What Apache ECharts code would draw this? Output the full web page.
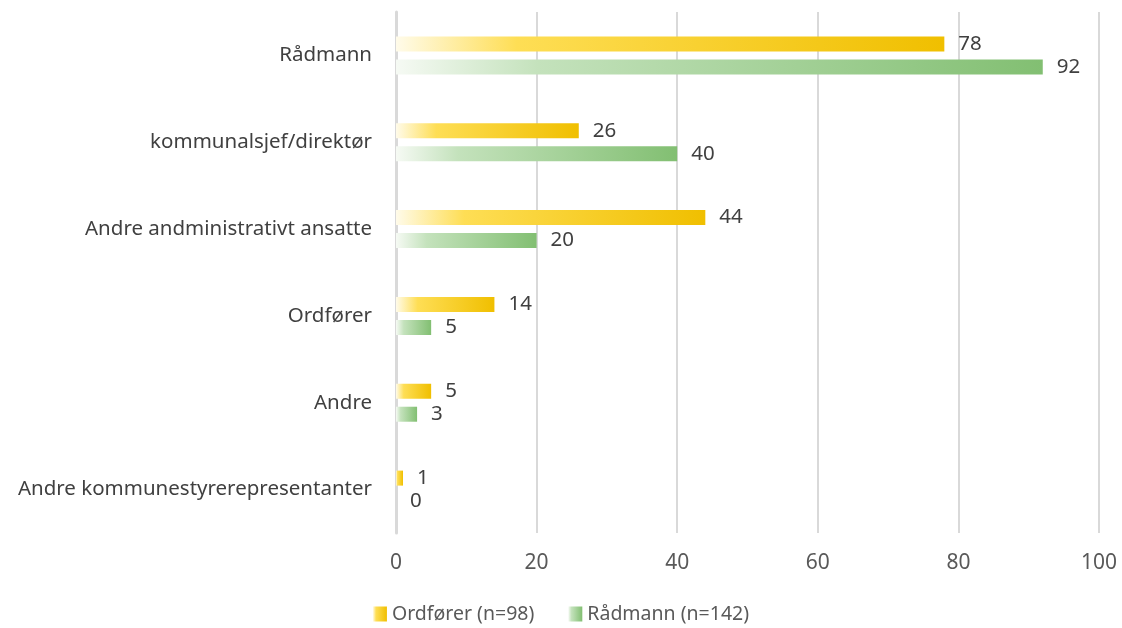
<!DOCTYPE html>
<html><head><meta charset="utf-8">
<script src="https://cdn.jsdelivr.net/npm/echarts@6/dist/echarts.min.js"></script>
<style>html,body{margin:0;padding:0;background:#fff}#c{width:1122px;height:628px}</style>
</head><body><div id="c"></div>
<script>
const categories = ["Rådmann","kommunalsjef/direktør","Andre andministrativt ansatte","Ordfører","Andre","Andre kommunestyrerepresentanter"];
const seriesNames = ["Ordfører (n=98)","Rådmann (n=142)"];
const ordforer = [78,26,44,14,5,1];
const radmann = [92,40,20,5,3,0];
const xTicks = [0,20,40,60,80,100];

const font = "Noto Sans";
function grad(c0,c1,c2){
  return new echarts.graphic.LinearGradient(0,0,1,0,[{offset:0,color:c0},{offset:0.22,color:c1},{offset:1,color:c2}]);
}
const yellow = grad('#FFFBEA','#FEDE55','#F0BF00');
const green = grad('#F6FAF4','#C4E2BC','#82BF72');
const chart = echarts.init(document.getElementById('c'));
chart.setOption({
  animation:false,
  textStyle:{fontFamily:font},
  grid:{left:396,right:23,top:12,bottom:95,containLabel:false},
  legend:{bottom:-1,left:'center',itemWidth:14,itemHeight:15,itemGap:34,
    textStyle:{fontSize:19.5,color:'#595959',fontFamily:font},
    data:[{name:seriesNames[0],icon:'rect',itemStyle:{color:grad('#FFFBEA','#FEDE55','#F0BF00')}},{name:seriesNames[1],icon:'rect',itemStyle:{color:grad('#F6FAF4','#C4E2BC','#82BF72')}}]},
  xAxis:{type:'value',min:0,max:100,interval:20,
    axisLine:{show:false},axisTick:{show:false},
    axisLabel:{fontSize:21,color:'#595959',margin:20,fontFamily:font,formatter:v=>String(xTicks[xTicks.indexOf(v)])},
    splitLine:{show:true,lineStyle:{color:'#D9D9D9',width:2}}},
  yAxis:{type:'category',data:categories,inverse:true,
    axisLine:{lineStyle:{color:'#D9D9D9',width:3}},axisTick:{show:false},
    axisLabel:{fontSize:20.5,color:'#404040',margin:24,fontFamily:font}},
  series:[
    {name:seriesNames[0],type:'bar',data:ordforer,barWidth:15,barGap:'53%',
     itemStyle:{color:yellow},
     label:{show:true,position:'right',distance:14,fontSize:20.5,color:'#404040',fontFamily:font}},
    {name:seriesNames[1],type:'bar',data:radmann,barWidth:15,
     itemStyle:{color:green},
     label:{show:true,position:'right',distance:14,fontSize:20.5,color:'#404040',fontFamily:font}}
  ]
});
</script></body></html>
